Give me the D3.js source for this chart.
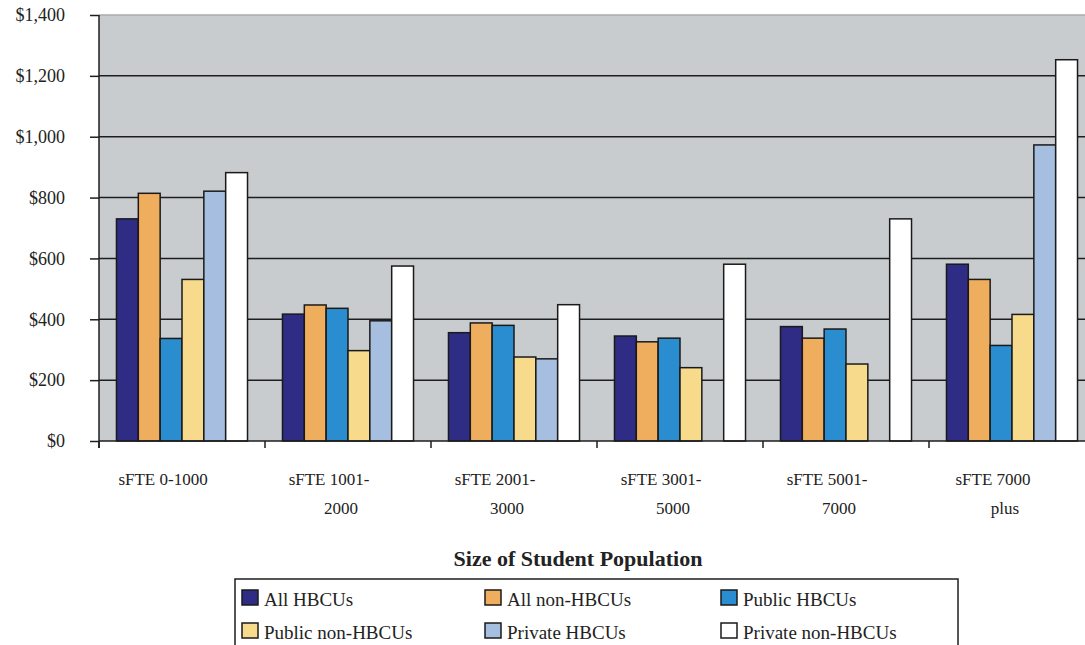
<!DOCTYPE html>
<html>
<head>
<meta charset="utf-8">
<script src="https://cdn.jsdelivr.net/npm/d3@7"></script>
<style>
  body { margin: 0; background: #fff; overflow: hidden; }
  text { font-family: "Liberation Serif", "DejaVu Serif", serif; fill: #222; }
</style>
</head>
<body>
<div id="chart"></div>
<script>
// data
var categories = ["sFTE 0-1000", "sFTE 1001-2000", "sFTE 2001-3000", "sFTE 3001-5000", "sFTE 5001-7000", "sFTE 7000 plus"];
var labelLine1 = ["sFTE 0-1000", "sFTE 1001-", "sFTE 2001-", "sFTE 3001-", "sFTE 5001-", "sFTE 7000"];
var labelLine2 = ["", "2000", "3000", "5000", "7000", "plus"];
var seriesNames = ["All HBCUs", "All non-HBCUs", "Public HBCUs", "Public non-HBCUs", "Private HBCUs", "Private non-HBCUs"];
var seriesColors = ["#2e2c85", "#efae5e", "#2a8dcf", "#f7da8b", "#a6bfe0", "#ffffff"];
var allHBCU        = [730, 417, 356, 345, 376, 581];
var allNonHBCU     = [814, 447, 388, 326, 338, 531];
var publicHBCU     = [337, 436, 380, 338, 368, 314];
var publicNonHBCU  = [531, 297, 276, 241, 253, 416];
var privateHBCU    = [821, 395, 270, 0, 0, 973];
var privateNonHBCU = [882, 575, 448, 581, 730, 1253];
var yTicks = [0, 200, 400, 600, 800, 1000, 1200, 1400];

var values = [allHBCU, allNonHBCU, publicHBCU, publicNonHBCU, privateHBCU, privateNonHBCU];

var W = 1085, H = 645;
var plot = { left: 99, right: 1095, top: 15, bottom: 441 };

var svg = d3.select("#chart").append("svg")
  .attr("width", W).attr("height", H);

var x0 = d3.scaleBand().domain(categories).range([plot.left, plot.right]);
var x1 = d3.scaleBand().domain(seriesNames).range([0, x0.bandwidth()]).paddingOuter(0.8);
var y = d3.scaleLinear().domain([0, 1400]).range([plot.bottom, plot.top]);

// plot background
svg.append("rect")
  .attr("x", plot.left).attr("y", plot.top)
  .attr("width", plot.right - plot.left).attr("height", plot.bottom - plot.top)
  .attr("fill", "#c9ccce");
svg.append("line")
  .attr("x1", plot.left).attr("x2", plot.right)
  .attr("y1", plot.top).attr("y2", plot.top)
  .attr("stroke", "#a9abad").attr("stroke-width", 1.5);

// gridlines
svg.selectAll(".grid")
  .data(yTicks.filter(function(d) { return d > 0 && d < 1400; }))
  .enter().append("line")
  .attr("class", "grid")
  .attr("x1", plot.left).attr("x2", plot.right)
  .attr("y1", function(d) { return y(d); }).attr("y2", function(d) { return y(d); })
  .attr("stroke", "#1e1e1e").attr("stroke-width", 1.5);

// bars
var groups = svg.selectAll(".grp")
  .data(categories)
  .enter().append("g")
  .attr("class", "grp")
  .attr("transform", function(d) { return "translate(" + x0(d) + ",0)"; });

groups.selectAll("rect")
  .data(function(c, ci) {
    return seriesNames.map(function(s, si) { return { s: s, i: si, v: values[si][ci] }; })
      .filter(function(d) { return d.v > 0; });
  })
  .enter().append("rect")
  .attr("x", function(d) { return x1(d.s); })
  .attr("y", function(d) { return y(d.v); })
  .attr("width", x1.bandwidth())
  .attr("height", function(d) { return y(0) - y(d.v); })
  .attr("fill", function(d) { return seriesColors[d.i]; })
  .attr("stroke", "#1a1a1a")
  .attr("stroke-width", 1.5);

// y axis
var yAxis = d3.axisLeft(y).tickValues(yTicks)
  .tickSize(9).tickPadding(25)
  .tickFormat(function(d) { return "$" + d3.format(",")(d); });
var gy = svg.append("g").attr("transform", "translate(" + plot.left + ",0)").call(yAxis);
gy.select(".domain").remove();
gy.selectAll(".tick line").attr("stroke", "#1e1e1e").attr("stroke-width", 1.5);
gy.selectAll(".tick text").style("font-size", "18px").style("font-family", "Liberation Serif, serif").attr("fill", "#222");
svg.append("line")
  .attr("x1", plot.left).attr("x2", plot.left)
  .attr("y1", plot.top).attr("y2", plot.bottom + 7)
  .attr("stroke", "#1e1e1e").attr("stroke-width", 1.5);

// x axis line and ticks at band edges
svg.append("line")
  .attr("x1", plot.left).attr("x2", plot.right)
  .attr("y1", plot.bottom).attr("y2", plot.bottom)
  .attr("stroke", "#1e1e1e").attr("stroke-width", 1.5);
svg.selectAll(".xtick")
  .data(categories)
  .enter().append("line")
  .attr("class", "xtick")
  .attr("x1", function(d) { return x0(d); }).attr("x2", function(d) { return x0(d); })
  .attr("y1", plot.bottom).attr("y2", plot.bottom + 7)
  .attr("stroke", "#1e1e1e").attr("stroke-width", 1.5);

// category labels
var xl = svg.selectAll(".xlab")
  .data(categories)
  .enter().append("text")
  .attr("class", "xlab")
  .attr("text-anchor", "middle")
  .style("font-size", "17px");
xl.append("tspan")
  .attr("x", function(d) { return x0(d) + x0.bandwidth() / 2 - 19; })
  .attr("y", 485)
  .text(function(d, i) { return labelLine1[i]; });
xl.append("tspan")
  .attr("x", function(d) { return x0(d) + x0.bandwidth() / 2 - 7; })
  .attr("y", 514)
  .text(function(d, i) { return labelLine2[i]; });

// axis title
svg.append("text")
  .attr("x", 578).attr("y", 566)
  .attr("text-anchor", "middle")
  .style("font-size", "22px").style("font-weight", "bold")
  .text("Size of Student Population");

// legend
var legend = svg.append("g").attr("transform", "translate(235,579)");
legend.append("rect")
  .attr("x", 0).attr("y", 0).attr("width", 723).attr("height", 75)
  .attr("fill", "#fff").attr("stroke", "#1e1e1e").attr("stroke-width", 1.5);
var colX = [7, 250, 486];
var li = legend.selectAll(".li")
  .data(seriesNames)
  .enter().append("g")
  .attr("class", "li")
  .attr("transform", function(d, i) { return "translate(" + colX[i % 3] + "," + (Math.floor(i / 3) * 33 + 11) + ")"; });
li.append("rect")
  .attr("x", 0).attr("y", 0).attr("width", 16).attr("height", 15)
  .attr("fill", function(d, i) { return seriesColors[i]; })
  .attr("stroke", "#1a1a1a").attr("stroke-width", 1.5);
li.append("text")
  .attr("x", 22).attr("y", 16)
  .style("font-size", "19px")
  .text(function(d) { return d; });
</script>
</body>
</html>
